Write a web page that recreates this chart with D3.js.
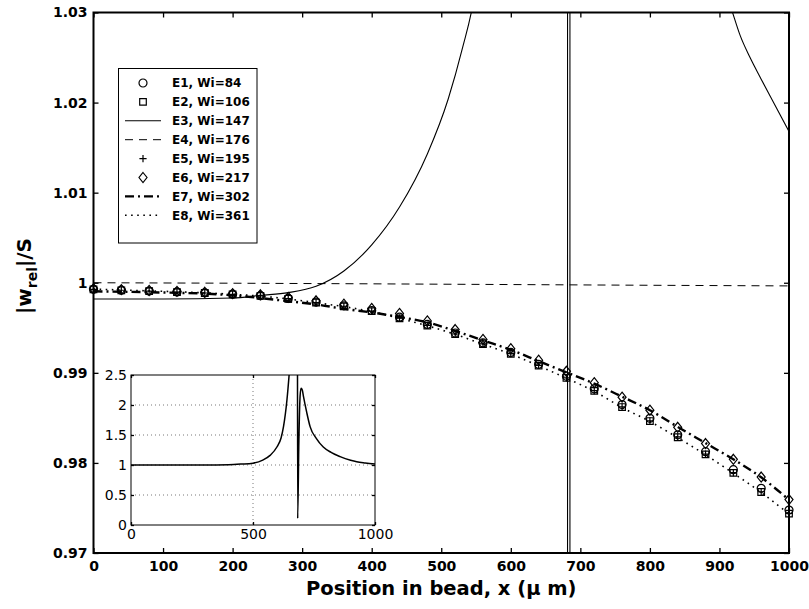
<!DOCTYPE html>
<html>
<head>
<meta charset="utf-8">
<script src="https://cdn.jsdelivr.net/npm/d3@7"></script>
<style>
  body { margin: 0; background: #fff; }
  svg { display: block; }
  text { font-family: "DejaVu Sans", sans-serif; fill: #000; }
</style>
</head>
<body>
<svg id="chart" width="809" height="609"></svg>
<script>
// Sample positions along the bead (µm) for the marker / broken-line series
const positions = [0, 40, 80, 120, 160, 200, 240, 280, 320, 360, 400, 440, 480, 520, 560, 600, 640, 680, 720, 760, 800, 840, 880, 920, 960, 1000];

// E1, Wi=84 (circles)
const e1 = [0.99928, 0.99918, 0.99908, 0.99898, 0.99888, 0.99873, 0.99857, 0.99826, 0.99785, 0.99744, 0.99692, 0.99618, 0.99537, 0.99442, 0.99332, 0.99226, 0.99095, 0.98962, 0.98822, 0.98648, 0.98495, 0.98312, 0.98125, 0.97925, 0.97718, 0.97476];
// E2, Wi=106 (squares)
const e2 = [0.99926, 0.99916, 0.99906, 0.99896, 0.99886, 0.99871, 0.99854, 0.99822, 0.99780, 0.99738, 0.99685, 0.99605, 0.99524, 0.99429, 0.99319, 0.99212, 0.99080, 0.98943, 0.98800, 0.98620, 0.98465, 0.98285, 0.98095, 0.97890, 0.97677, 0.97437];
// E5, Wi=195 (plus)
const e5 = [0.99927, 0.99917, 0.99907, 0.99897, 0.99886, 0.99871, 0.99855, 0.99823, 0.99781, 0.99739, 0.99686, 0.99607, 0.99526, 0.99431, 0.99321, 0.99214, 0.99082, 0.98945, 0.98802, 0.98623, 0.98468, 0.98288, 0.98098, 0.97893, 0.97680, 0.97440];
// E6, Wi=217 (diamonds)
const e6 = [0.99934, 0.99924, 0.99914, 0.99904, 0.99894, 0.99879, 0.99866, 0.99838, 0.99800, 0.99762, 0.99715, 0.99660, 0.99576, 0.99481, 0.99371, 0.99268, 0.99140, 0.99017, 0.98890, 0.98730, 0.98585, 0.98395, 0.98215, 0.98040, 0.97843, 0.97593];
// E7, Wi=302 (dash-dot)
const e7 = [0.99905, 0.99900, 0.99895, 0.99888, 0.99880, 0.99860, 0.99830, 0.99795, 0.99760, 0.99710, 0.99670, 0.99620, 0.99560, 0.99465, 0.99360, 0.99255, 0.99130, 0.99005, 0.98880, 0.98735, 0.98585, 0.98400, 0.98220, 0.98040, 0.97840, 0.97590];
// E8, Wi=361 (dotted)
const e8 = [0.99930, 0.99920, 0.99910, 0.99900, 0.99888, 0.99872, 0.99852, 0.99820, 0.99778, 0.99735, 0.99680, 0.99605, 0.99522, 0.99427, 0.99317, 0.99208, 0.99078, 0.98940, 0.98795, 0.98615, 0.98460, 0.98280, 0.98090, 0.97885, 0.97672, 0.97432];

// E3, Wi=147 (solid) – resonant case
const e3X = [0, 100, 200, 240, 280, 320, 360, 400, 440, 480, 510, 530, 548, 600, 650, 681.5, 681.6, 685, 685.1, 750, 850, 900, 918, 930, 944, 960, 973, 1000];
const e3Y = [0.9982, 0.9982, 0.9983, 0.9986, 0.9989, 0.9996, 1.0013, 1.0042, 1.0084, 1.0143, 1.0204, 1.0259, 1.0320, 1.08, 1.3, 3.0, 0.5, 0.5, 3.0, 1.5, 1.051, 1.0345, 1.0302, 1.0274, 1.0250, 1.0226, 1.0207, 1.0168];

// E4, Wi=176 (dashed)
const e4X = [0, 200, 400, 600, 800, 1000];
const e4Y = [1.0000, 0.99995, 0.99988, 0.99980, 0.99972, 0.99965];

// Inset: full-range view of the E3 curve
const insetX = [0, 100, 200, 300, 400, 450, 500, 540, 570, 598, 615, 625, 639, 648, 660, 672, 681.5, 683, 688, 693, 697, 702, 707, 720, 734, 760, 788, 820, 857, 900, 925, 960, 1000];
const insetY = [1.0, 1.0, 1.0, 1.0, 1.005, 1.015, 1.03, 1.08, 1.16, 1.30, 1.45, 1.64, 2.08, 2.5, 3.2, 4.5, 6.0, 0.11, 1.4, 2.15, 2.28, 2.25, 2.14, 1.88, 1.64, 1.44, 1.30, 1.21, 1.14, 1.08, 1.055, 1.035, 1.017];

// Axis ticks and labels
const xTicks = [0, 100, 200, 300, 400, 500, 600, 700, 800, 900, 1000];
const yTicks = [0.97, 0.98, 0.99, 1.00, 1.01, 1.02, 1.03];
const yTickLabels = ["0.97", "0.98", "0.99", "1", "1.01", "1.02", "1.03"];
const insetXTicks = [0, 500, 1000];
const insetYTicks = [0, 0.5, 1, 1.5, 2, 2.5];
const insetYTickLabels = ["0", "0.5", "1", "1.5", "2", "2.5"];

const legendLabels = ["E1, Wi=84", "E2, Wi=106", "E3, Wi=147", "E4, Wi=176", "E5, Wi=195", "E6, Wi=217", "E7, Wi=302", "E8, Wi=361"];

const svg = d3.select("#chart");
const L = 93.5, R = 789, T = 12.5, B = 553;
const x = d3.scaleLinear().domain([0, 1000]).range([L, R]);
const y = d3.scaleLinear().domain([0.97, 1.03]).range([B, T]);

svg.append("rect").attr("width", 809).attr("height", 609).attr("fill", "#fff");

svg.append("clipPath").attr("id", "plotClip")
  .append("rect").attr("x", L).attr("y", T).attr("width", R - L).attr("height", B - T);

// Axes with inward ticks on all four sides
const tickFont = g => g.selectAll("text").style("font-size", "14px").style("font-weight", "bold");
const clean = g => { g.select(".domain").remove(); g.selectAll(".tick line").attr("stroke", "#000").attr("stroke-width", 1.3); };

svg.append("g").attr("transform", `translate(0,${B})`)
  .call(d3.axisBottom(x).tickValues(xTicks).tickSizeInner(-5).tickSizeOuter(0).tickPadding(8).tickFormat(d3.format("d")))
  .call(clean).call(tickFont);
svg.append("g").attr("transform", `translate(0,${T})`)
  .call(d3.axisTop(x).tickValues(xTicks).tickSizeInner(-5).tickSizeOuter(0).tickFormat(""))
  .call(clean);
svg.append("g").attr("transform", `translate(${L},0)`)
  .call(d3.axisLeft(y).tickValues(yTicks).tickSizeInner(-5).tickSizeOuter(0).tickPadding(6).tickFormat((d, i) => yTickLabels[i]))
  .call(clean).call(tickFont);
svg.append("g").attr("transform", `translate(${R},0)`)
  .call(d3.axisRight(y).tickValues(yTicks).tickSizeInner(-5).tickSizeOuter(0).tickFormat(""))
  .call(clean);

// Lines
const plot = svg.append("g").attr("clip-path", "url(#plotClip)");
const lineXY = (xs, ys) => d3.line().x((d, i) => x(xs[i])).y((d, i) => y(ys[i]))(xs);
const lineMono = (xs, ys) => d3.line().curve(d3.curveMonotoneX).x((d, i) => x(xs[i])).y((d, i) => y(ys[i]))(xs);

plot.append("path").attr("d", lineMono(e3X, e3Y))
  .attr("fill", "none").attr("stroke", "#000").attr("stroke-width", 1.1);
plot.append("path").attr("d", lineXY(e4X, e4Y))
  .attr("fill", "none").attr("stroke", "#000").attr("stroke-width", 1).attr("stroke-dasharray", "8,6");
plot.append("path").attr("d", lineMono(positions, e7))
  .attr("fill", "none").attr("stroke", "#000").attr("stroke-width", 2.4).attr("stroke-dasharray", "9,4,2,4");
plot.append("path").attr("d", lineMono(positions, e8))
  .attr("fill", "none").attr("stroke", "#000").attr("stroke-width", 1.6).attr("stroke-dasharray", "1.6,4.5");

// Marker shapes
const markerPath = {
  circle: "M4,0A4,4 0 1,1 -4,0A4,4 0 1,1 4,0Z",
  square: "M-3.3,-3.3H3.3V3.3H-3.3Z",
  plus: "M-3.6,0H3.6M0,-3.6V3.6",
  diamond: "M0,-5L4,0L0,5L-4,0Z"
};
function drawMarkers(vals, shape) {
  svg.append("g").selectAll("path").data(vals).join("path")
    .attr("transform", (d, i) => `translate(${x(positions[i])},${y(d)})`)
    .attr("d", markerPath[shape])
    .attr("fill", "none").attr("stroke", "#000").attr("stroke-width", 1.2);
}
drawMarkers(e1, "circle");
drawMarkers(e2, "square");
drawMarkers(e5, "plus");
drawMarkers(e6, "diamond");

// Frame
svg.append("rect").attr("x", L).attr("y", T).attr("width", R - L).attr("height", B - T)
  .attr("fill", "none").attr("stroke", "#000").attr("stroke-width", 2);

// Legend
const lg = svg.append("g");
lg.append("rect").attr("x", 118.5).attr("y", 68.5).attr("width", 138.5).attr("height", 174.5)
  .attr("fill", "#fff").attr("stroke", "#000").attr("stroke-width", 1);
const legendStyle = [
  { shape: "circle" }, { shape: "square" },
  { dash: null, w: 1.1 }, { dash: "8,6", w: 1 },
  { shape: "plus" }, { shape: "diamond" },
  { dash: "9,4,2,4", w: 2.4 }, { dash: "1.6,4.5", w: 1.6 }
];
legendLabels.forEach((lab, i) => {
  const ry = 83 + i * 18.9;
  const st = legendStyle[i];
  if (st.shape) {
    lg.append("path").attr("transform", `translate(143,${ry})`).attr("d", markerPath[st.shape])
      .attr("fill", "none").attr("stroke", "#000").attr("stroke-width", 1.2);
  } else {
    lg.append("line").attr("x1", 125).attr("x2", 161).attr("y1", ry).attr("y2", ry)
      .attr("stroke", "#000").attr("stroke-width", st.w).attr("stroke-dasharray", st.dash);
  }
  lg.append("text").attr("x", 172).attr("y", ry).attr("dy", "0.36em")
    .style("font-size", "12px").style("font-weight", "bold").text(lab);
});

// Axis titles
svg.append("text").attr("x", x(500)).attr("y", 595).attr("text-anchor", "middle")
  .style("font-size", "19.5px").style("font-weight", "bold").text("Position in bead, x (\u03bc m)");
const yt = svg.append("text").attr("transform", "translate(31,276) rotate(-90)").attr("text-anchor", "middle")
  .style("font-size", "20px").style("font-weight", "bold");
yt.append("tspan").text("|w");
yt.append("tspan").attr("dy", 6).style("font-size", "14px").text("rel");
yt.append("tspan").attr("dy", -6).text("|/S");

// Inset
const iL = 131, iR = 375, iT = 375, iB = 525;
const xi = d3.scaleLinear().domain([0, 1000]).range([iL, iR]);
const yi = d3.scaleLinear().domain([0, 2.5]).range([iB, iT]);
const inset = svg.append("g");
inset.append("rect").attr("x", iL).attr("y", iT).attr("width", iR - iL).attr("height", iB - iT).attr("fill", "#fff");
inset.append("clipPath").attr("id", "insetClip")
  .append("rect").attr("x", iL).attr("y", iT).attr("width", iR - iL).attr("height", iB - iT);
// dotted grid
inset.append("g").selectAll("line").data(insetYTicks.slice(1, -1)).join("line")
  .attr("x1", iL).attr("x2", iR).attr("y1", d => yi(d)).attr("y2", d => yi(d))
  .attr("stroke", "#555").attr("stroke-width", 0.8).attr("stroke-dasharray", "1,3");
inset.append("g").selectAll("line").data(insetXTicks.slice(1, -1)).join("line")
  .attr("x1", d => xi(d)).attr("x2", d => xi(d)).attr("y1", iT).attr("y2", iB)
  .attr("stroke", "#555").attr("stroke-width", 0.8).attr("stroke-dasharray", "1,3");
inset.append("path").attr("clip-path", "url(#insetClip)")
  .attr("d", d3.line().curve(d3.curveMonotoneX).x((d, i) => xi(insetX[i])).y((d, i) => yi(insetY[i]))(insetX))
  .attr("fill", "none").attr("stroke", "#000").attr("stroke-width", 1.5);
const insetFont = g => g.selectAll("text").style("font-size", "14px").style("font-weight", "normal");
inset.append("g").attr("transform", `translate(0,${iB})`)
  .call(d3.axisBottom(xi).tickValues(insetXTicks).tickSizeInner(-3).tickSizeOuter(0).tickPadding(4).tickFormat(d3.format("d")))
  .call(clean).call(insetFont);
inset.append("g").attr("transform", `translate(${iL},0)`)
  .call(d3.axisLeft(yi).tickValues(insetYTicks).tickSizeInner(-3).tickSizeOuter(0).tickPadding(4).tickFormat((d, i) => insetYTickLabels[i]))
  .call(clean).call(insetFont);
inset.append("g").attr("transform", `translate(0,${iT})`)
  .call(d3.axisTop(xi).tickValues(insetXTicks).tickSizeInner(-3).tickSizeOuter(0).tickFormat(""))
  .call(clean);
inset.append("g").attr("transform", `translate(${iR},0)`)
  .call(d3.axisRight(yi).tickValues(insetYTicks).tickSizeInner(-3).tickSizeOuter(0).tickFormat(""))
  .call(clean);
inset.append("rect").attr("x", iL).attr("y", iT).attr("width", iR - iL).attr("height", iB - iT)
  .attr("fill", "none").attr("stroke", "#000").attr("stroke-width", 1);
</script>
</body>
</html>
